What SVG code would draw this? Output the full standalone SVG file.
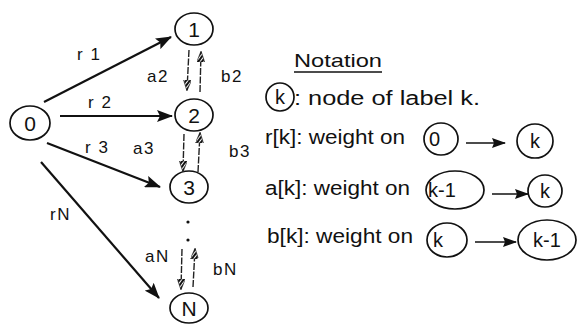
<svg xmlns="http://www.w3.org/2000/svg" width="577" height="329" viewBox="0 0 577 329">
  <style>
    text { font-family: "Liberation Sans", Arial, Helvetica, sans-serif; fill: #111; }
    .ring { fill: none; stroke: #111; stroke-width: 1.7; }
    .nlab { font-size: 21px; text-anchor: middle; }
    .elab { font-size: 17px; letter-spacing: 1.5px; }
    .note { font-size: 20px; }
    .edge { stroke: #111; stroke-width: 2.2; fill: none; }
    .wt { stroke: #222; stroke-width: 1.4; fill: none; stroke-dasharray: 7 1.5; }
    .key { stroke: #111; stroke-width: 1.6; fill: none; }
  </style>
  <defs>
    <pattern id="hatch" patternUnits="userSpaceOnUse" width="3" height="3" patternTransform="rotate(35)">
      <rect width="3" height="3" fill="#fff"/>
      <rect width="3" height="2" fill="#111"/>
    </pattern>
    <marker id="head" markerUnits="userSpaceOnUse" markerWidth="16" markerHeight="12" refX="15" refY="6" orient="auto">
      <path d="M0,0 L16,6 L0,12 L3,6 Z" fill="#111"/>
    </marker>
    <marker id="smallhead" markerUnits="userSpaceOnUse" markerWidth="11" markerHeight="8" refX="10" refY="4" orient="auto">
      <path d="M0,0 L11,4 L0,8 Z" fill="url(#hatch)" stroke="#222" stroke-width="0.6"/>
    </marker>
    <marker id="keyhead" markerUnits="userSpaceOnUse" markerWidth="14" markerHeight="10" refX="13" refY="5" orient="auto">
      <path d="M0,0 L14,5 L0,10 L2,5 Z" fill="#111"/>
    </marker>
  </defs>

  <!-- chain of nodes -->
  <g id="node-0">
    <ellipse class="ring" cx="30" cy="123" rx="20" ry="17"/>
    <text class="nlab" x="30" y="131">0</text>
  </g>
  <g id="node-1">
    <ellipse class="ring" cx="194" cy="29" rx="19" ry="16"/>
    <text class="nlab" x="194" y="37">1</text>
  </g>
  <g id="node-2">
    <ellipse class="ring" cx="194" cy="115" rx="19" ry="16"/>
    <text class="nlab" x="194" y="123">2</text>
  </g>
  <g id="node-3">
    <ellipse class="ring" cx="189" cy="187" rx="19" ry="16"/>
    <text class="nlab" x="189" y="195">3</text>
  </g>
  <g id="node-N">
    <ellipse class="ring" cx="189" cy="308" rx="19" ry="15"/>
    <text class="nlab" x="189" y="316">N</text>
  </g>
  <g id="ellipsis">
    <circle cx="188" cy="222" r="1.6" fill="#111"/>
    <circle cx="188" cy="240" r="1.6" fill="#111"/>
  </g>

  <!-- weighted connectors -->
  <g id="connectors">
    <line class="edge" x1="44" y1="102" x2="171" y2="37" marker-end="url(#head)"/>
    <line class="edge" x1="60" y1="116" x2="172" y2="116" marker-end="url(#head)"/>
    <line class="edge" x1="47" y1="143" x2="160" y2="187" marker-end="url(#head)"/>
    <line class="edge" x1="41" y1="162" x2="159" y2="298" marker-end="url(#head)"/>

    <line class="wt" x1="189" y1="50" x2="187" y2="90" marker-end="url(#smallhead)"/>
    <line class="wt" x1="200" y1="92" x2="201" y2="52" marker-end="url(#smallhead)"/>
    <line class="wt" x1="184" y1="134" x2="183" y2="171" marker-end="url(#smallhead)"/>
    <line class="wt" x1="198" y1="172" x2="200" y2="133" marker-end="url(#smallhead)"/>
    <line class="wt" x1="182" y1="249" x2="181" y2="289" marker-end="url(#smallhead)"/>
    <line class="wt" x1="193" y1="287" x2="195" y2="249" marker-end="url(#smallhead)"/>

    <text class="elab" x="77" y="60">r 1</text>
    <text class="elab" x="88" y="108">r 2</text>
    <text class="elab" x="85" y="153">r 3</text>
    <text class="elab" x="50" y="220">rN</text>
    <text class="elab" x="147" y="82">a2</text>
    <text class="elab" x="221" y="82">b2</text>
    <text class="elab" x="133" y="154">a3</text>
    <text class="elab" x="229" y="157">b3</text>
    <text class="elab" x="145" y="262">aN</text>
    <text class="elab" x="213" y="275">bN</text>
  </g>

  <!-- notation key -->
  <g id="notation">
    <text x="294" y="67" font-size="19" textLength="88" lengthAdjust="spacingAndGlyphs">Notation</text>
    <line x1="294" y1="72" x2="382" y2="72" stroke="#111" stroke-width="1.3"/>

    <ellipse class="ring" cx="280" cy="97" rx="14" ry="14"/>
    <text class="note" x="280" y="104" text-anchor="middle">k</text>
    <text class="note" x="294" y="105" textLength="186" lengthAdjust="spacingAndGlyphs">: node of label k.</text>

    <text class="note" x="265" y="144" textLength="140" lengthAdjust="spacingAndGlyphs">r[k]: weight on</text>
    <ellipse class="ring" cx="441" cy="139" rx="17" ry="16"/>
    <text class="note" x="429" y="146">0</text>
    <line class="key" x1="466" y1="143" x2="505" y2="143" marker-end="url(#keyhead)"/>
    <ellipse class="ring" cx="535" cy="141" rx="18" ry="17"/>
    <text class="note" x="535" y="148" text-anchor="middle">k</text>

    <text class="note" x="265" y="195" textLength="145" lengthAdjust="spacingAndGlyphs">a[k]: weight on</text>
    <ellipse class="ring" cx="455" cy="190" rx="29" ry="19"/>
    <text class="note" x="428" y="197">k-1</text>
    <line class="key" x1="492" y1="194" x2="528" y2="194" marker-end="url(#keyhead)"/>
    <ellipse class="ring" cx="545" cy="191" rx="17" ry="16"/>
    <text class="note" x="545" y="198" text-anchor="middle">k</text>

    <text class="note" x="267" y="243" textLength="146" lengthAdjust="spacingAndGlyphs">b[k]: weight on</text>
    <ellipse class="ring" cx="447" cy="240" rx="20" ry="17"/>
    <text class="note" x="433" y="247">k</text>
    <line class="key" x1="475" y1="242" x2="516" y2="242" marker-end="url(#keyhead)"/>
    <ellipse class="ring" cx="547" cy="240" rx="29" ry="20"/>
    <text class="note" x="547" y="247" text-anchor="middle">k-1</text>
  </g>
</svg>
